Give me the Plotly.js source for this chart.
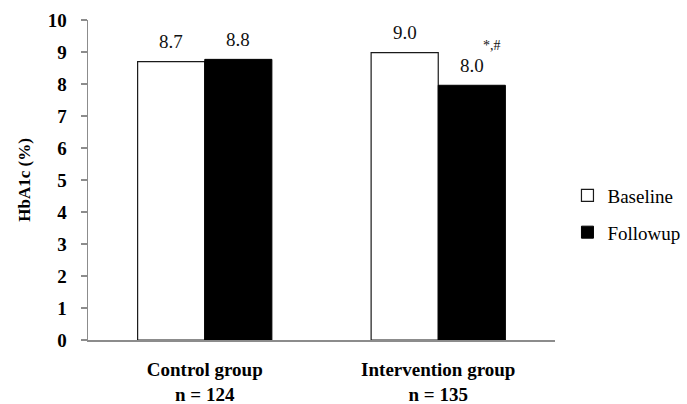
<!DOCTYPE html>
<html>
<head>
<meta charset="utf-8">
<script src="https://cdn.plot.ly/plotly-3.0.1.min.js"></script>
<style>html,body{margin:0;padding:0;background:#fff;}#chart{width:687px;height:404px;}</style>
</head>
<body>
<div id="chart"></div>
<script>
const categories = ["Control group<br>n = 124", "Intervention group<br>n = 135"];
const seriesNames = ["Baseline", "Followup"];
const baselineValues = [8.70, 8.98];
const followupValues = [8.77, 7.96];
const baselineLabels = ["8.7", "9.0"];
const followupLabels = ["8.8", "8.0"];
const yTicks = [0, 1, 2, 3, 4, 5, 6, 7, 8, 9, 10];

const serif = "Liberation Serif, Times New Roman, serif";

const traces = [
  {
    type: "bar", name: seriesNames[0], x: categories, y: baselineValues,
    marker: {color: "#ffffff", line: {color: "#1a1a1a", width: 1.2}},
    hoverinfo: "skip", legendgroup: "a"
  },
  {
    type: "bar", name: seriesNames[1], x: categories, y: followupValues,
    marker: {color: "#000000", line: {color: "#000000", width: 1}},
    hoverinfo: "skip", legendgroup: "b"
  }
];

const annotations = [];
categories.forEach((c, i) => {
  annotations.push({x: c, y: baselineValues[i], xref: "x", yref: "y", text: baselineLabels[i],
    showarrow: false, xshift: -33.5, yshift: 20, yanchor: "middle",
    font: {family: serif, size: 19, color: "#111"}});
  annotations.push({x: c, y: followupValues[i], xref: "x", yref: "y", text: followupLabels[i],
    showarrow: false, xshift: 33.5, yshift: 20, yanchor: "middle",
    font: {family: serif, size: 19, color: "#111"}});
});
annotations.push({x: categories[1], y: followupValues[1], xref: "x", yref: "y", text: "*,#",
  showarrow: false, xshift: 54, yshift: 40, yanchor: "middle",
  font: {family: serif, size: 14, color: "#111"}});

const layout = {
  width: 687, height: 404,
  margin: {l: 88, r: 132, t: 20, b: 64, autoexpand: false},
  paper_bgcolor: "#fff", plot_bgcolor: "#fff",
  barmode: "group", bargap: 0.425, bargroupgap: 0,
  showlegend: true,
  legend: {xref: "container", yref: "container", x: 0.826, y: 0.47, xanchor: "left", yanchor: "middle",
    font: {family: serif, size: 19, color: "#000"},
    traceorder: "grouped", tracegroupgap: 9, itemwidth: 30, bgcolor: "rgba(0,0,0,0)"},
  xaxis: {type: "category", showline: true, linecolor: "#8c8c8c", linewidth: 1.5,
    ticks: "", showgrid: false, zeroline: false, fixedrange: true,
    tickfont: {family: serif, size: 19, color: "#000", weight: "bold"},
    ticklabelstandoff: 12, automargin: false},
  yaxis: {range: [0, 10], tickvals: yTicks, ticktext: yTicks.map(String),
    showline: true, linecolor: "#8c8c8c", linewidth: 1.5,
    ticks: "outside", ticklen: 6, tickcolor: "#8c8c8c", tickwidth: 1.5,
    showgrid: false, zeroline: false, fixedrange: true,
    tickfont: {family: serif, size: 19, color: "#000", weight: "bold"},
    ticklabelstandoff: 10,
    title: {text: "HbA1c (%)", font: {family: serif, size: 17, color: "#000", weight: "bold"}, standoff: 13},
    automargin: false},
  annotations: annotations
};

Plotly.newPlot("chart", traces, layout, {displayModeBar: false, staticPlot: true});
</script>
</body>
</html>
